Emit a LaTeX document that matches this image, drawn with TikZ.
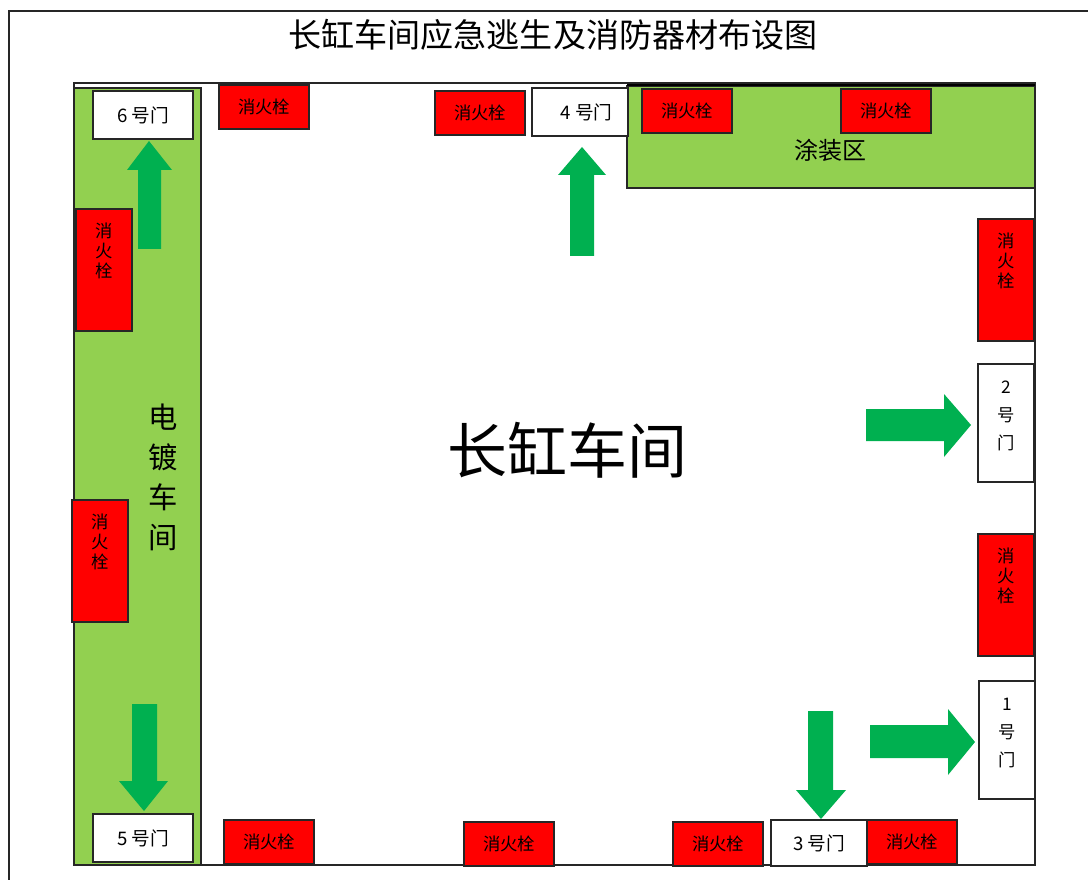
\documentclass[tikz,border=0pt]{standalone}
\usepackage{fontspec}
\setmainfont{Noto Sans CJK SC}
\definecolor{zonegreen}{HTML}{92D050}
\definecolor{exitgreen}{HTML}{00B050}
\tikzset{
  wall/.style={draw=black!85, line width=1.3pt},
  zone/.style={wall, fill=zonegreen},
  hydranth/.style={draw=black!85, line width=1.3pt, fill=red, inner sep=0pt,
    minimum width=67pt, minimum height=33pt, font=\fontsize{13}{15}\selectfont},
  hydrantv/.style={hydranth, minimum width=42pt, minimum height=92pt, align=center},
  doorh/.style={draw=black!85, line width=1.3pt, fill=white, inner sep=0pt,
    minimum width=75pt, minimum height=36pt, font=\fontsize{14}{16}\selectfont},
  doorv/.style={doorh, minimum width=42pt, minimum height=88pt, align=center,
    font=\fontsize{13}{21}\selectfont},
  exitarrow/.style={fill=exitgreen},
}
\begin{document}
\begin{tikzpicture}[x=0.75pt, y=-0.75pt]
  \useasboundingbox (0, 0) rectangle (1088, 880);
  % outer frame
  \draw[wall] (1088, 11) -- (9, 11) -- (9, 880);
  \node (title) at (553, 35) {\fontsize{24.8}{30}\selectfont 长缸车间应急逃生及消防器材布设图};
  % workshop and zones
  \draw[wall] (74, 83) rectangle (1035, 865);
  \draw[zone] (74, 88) rectangle (201, 865);
  \draw[zone] (627, 86) rectangle (1035, 188);
  \draw[line width=2.2pt] (627, 85) -- (1035, 85);
  \node (main) at (567, 450) {\fontsize{45}{50}\selectfont 长缸车间};
  \node[align=center, inner sep=0pt, font=\fontsize{22}{30}\selectfont] (plating) at (163, 477) {电\\镀\\车\\间};
  \node (coating) at (830, 150) {\fontsize{18}{22}\selectfont 涂装区};
  % hydrants
  \foreach \name/\x/\y in {a/264/107, b/480/113, c/687/111, d/886/111, e/269/842, f/509/844, g/718/844, h/912/842}
    \node[hydranth] (hydrant\name) at (\x, \y) {消火栓};
  \foreach \name/\x/\y in {i/104/270, j/100/561, k/1006/280, l/1006/595}
    \node[hydrantv] (hydrant\name) at (\x, \y) {消\\火\\栓\\[15pt]};
  % doors
  \node[doorh] (doorsix) at (143, 115) {6 号门};
  \node[doorh, minimum width=72pt] (doorfour) at (580, 112) {\hspace{10pt}4 号门};
  \node[doorh] (doorfive) at (143, 838) {5 号门};
  \node[doorh, minimum width=72pt, minimum height=34pt] (doorthree) at (819, 843) {3 号门};
  \node[doorv] (doortwo) at (1006, 423) {2\\号\\门\\[-9pt]};
  \node[doorv] (doorone) at (1007, 740) {1\\号\\门\\[-9pt]};
  % exit arrows
  \fill[exitarrow] (149, 141) -- ++(23, 29) -- ++(-11, 0) -- ++(0, 79) -- ++(-23, 0)
  -- ++(0, -79) -- ++(-11, 0) -- cycle;
  \fill[exitarrow] (582, 147) -- ++(24, 28) -- ++(-12, 0) -- ++(0, 81) -- ++(-24, 0)
  -- ++(0, -81) -- ++(-12, 0) -- cycle;
  \fill[exitarrow] (971, 425) -- ++(-27, 32) -- ++(0, -16) -- ++(-78, 0) -- ++(0, -32)
  -- ++(78, 0) -- ++(0, -15) -- cycle;
  \fill[exitarrow] (975, 742) -- ++(-27, 33) -- ++(0, -17) -- ++(-78, 0) -- ++(0, -33)
  -- ++(78, 0) -- ++(0, -16) -- cycle;
  \fill[exitarrow] (821, 819) -- ++(-25, -29) -- ++(12, 0) -- ++(0, -79) -- ++(25, 0)
  -- ++(0, 79) -- ++(13, 0) -- cycle;
  \fill[exitarrow] (144, 811) -- ++(-25, -30) -- ++(13, 0) -- ++(0, -77) -- ++(25, 0)
  -- ++(0, 77) -- ++(11, 0) -- cycle;
\end{tikzpicture}
\end{document}
